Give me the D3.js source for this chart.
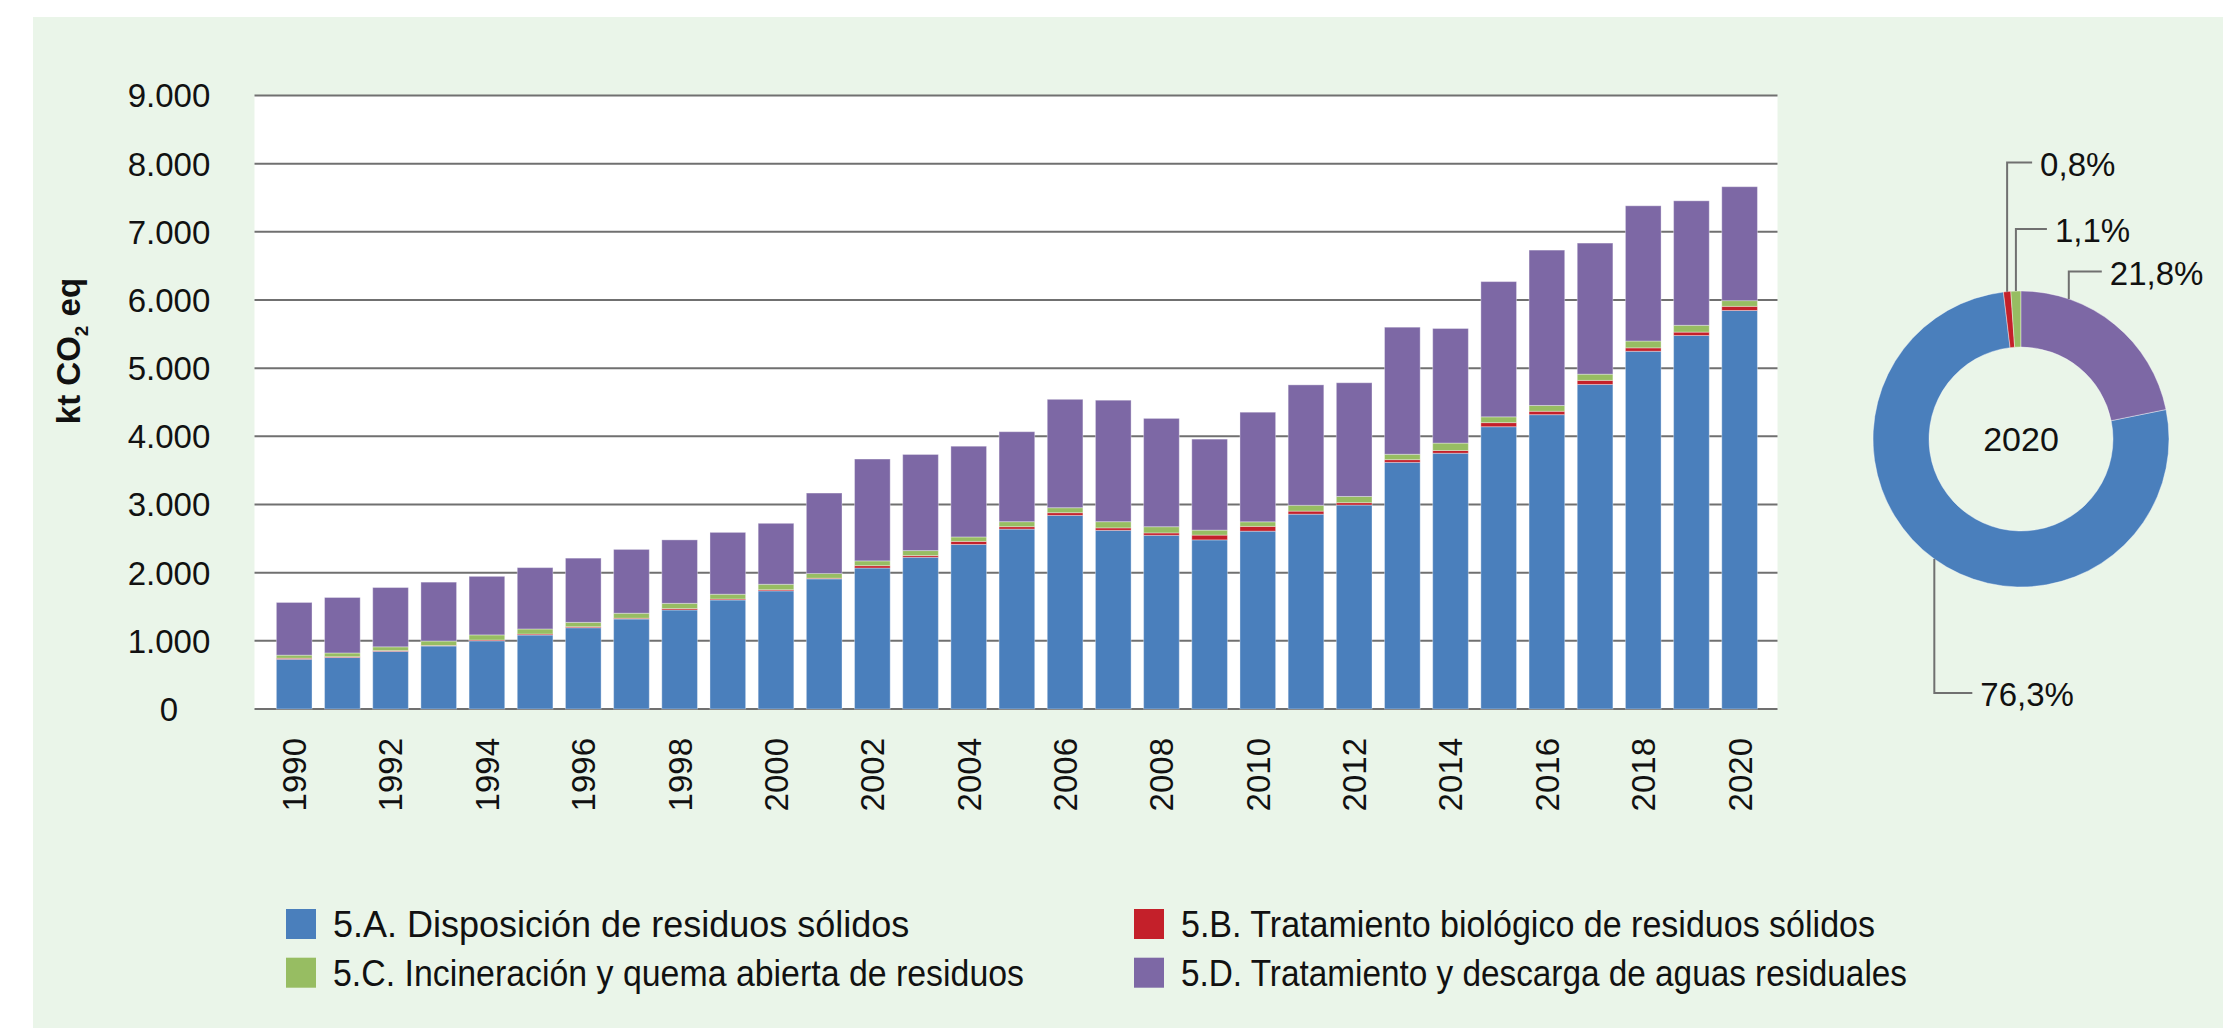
<!DOCTYPE html>
<html lang="es">
<head>
<meta charset="utf-8">
<title>Emisiones del sector Residuos (kt CO2 eq), 1990-2020</title>
<script src="https://cdn.jsdelivr.net/npm/d3@7/dist/d3.min.js"></script>
<style>
  html, body { margin: 0; padding: 0; background: #ffffff; }
  svg { display: block; }
  text { font-family: "Liberation Sans", Arial, sans-serif; fill: #111111; }
  .legend-label { font-family: "Liberation Sans Narrow", "Liberation Sans", Arial, sans-serif; }
</style>
</head>
<body>
<svg id="chart" width="2223" height="1028"></svg>
<script>
// ---- Data (kt CO2 eq) ----
const years = d3.range(1990, 2021);
const yearTickLabels = years.filter(y => y % 2 === 0);

// 5.A. Disposición de residuos sólidos
const disposicionSolidos = [730, 755, 845, 924, 1000, 1085, 1192, 1320, 1453, 1599, 1733, 1909, 2068, 2226, 2414, 2639,
  2840, 2621, 2548, 2481, 2609, 2858, 2992, 3618, 3752, 4141, 4318, 4761, 5248, 5479, 5846];
// 5.B. Tratamiento biológico de residuos sólidos
const tratamientoBiologico = [15, 12, 12, 8, 12, 15, 15, 12, 20, 15, 17, 10, 35, 25, 45, 36,
  40, 36, 35, 70, 70, 45, 35, 40, 40, 60, 50, 60, 50, 50, 61];
// 5.C. Incineración y quema abierta de residuos
const incineracion = [45, 55, 55, 65, 75, 74, 64, 73, 77, 70, 80, 69, 70, 73, 65, 73,
  73, 91, 91, 73, 67, 85, 91, 79, 109, 85, 85, 91, 100, 100, 84];
// 5.D. Tratamiento y descarga de aguas residuales
const aguasResiduales = [773, 814, 870, 864, 859, 900, 942, 936, 931, 907, 894, 1180, 1494, 1410, 1331, 1320,
  1590, 1782, 1589, 1335, 1608, 1767, 1668, 1864, 1681, 1984, 2279, 1923, 1984, 1826, 1671];

const yTicks = d3.range(0, 9001, 1000);

const seriesKeys = ["A", "B", "C", "D"];
const seriesNames = [
  "5.A. Disposición de residuos sólidos",
  "5.B. Tratamiento biológico de residuos sólidos",
  "5.C. Incineración y quema abierta de residuos",
  "5.D. Tratamiento y descarga de aguas residuales"
];
const seriesColors = ["#4A7FBC", "#C4202A", "#97BD62", "#7D68A5"];
const donutYear = 2020;

// ---- Table for the stack layout ----
const rows = years.map((yr, i) => ({
  year: yr,
  A: disposicionSolidos[i],
  B: tratamientoBiologico[i],
  C: incineracion[i],
  D: aguasResiduales[i]
}));

const svg = d3.select("#chart");
const W = 2223, H = 1028;

// Light green panel
svg.append("rect").attr("x", 33).attr("y", 17).attr("width", W - 33).attr("height", H - 17)
  .attr("fill", "#EAF5E9");

// ---- Bar chart ----
const plot = { left: 254.5, right: 1777.5, top: 95.5, bottom: 709 };

const y = d3.scaleLinear().domain([0, 9000]).range([plot.bottom, plot.top]);
const x = d3.scaleBand().domain(years).range([270.1, 1763.7]).paddingInner(0.26).paddingOuter(0.13);

const locale = d3.formatLocale({ decimal: ",", thousands: ".", grouping: [3], currency: ["", ""] });
const fmtThousands = locale.format(",d");
const fmtPct = locale.format(",.1f");

svg.append("rect")
  .attr("x", plot.left).attr("y", plot.top)
  .attr("width", plot.right - plot.left).attr("height", plot.bottom - plot.top)
  .attr("fill", "#ffffff");

const grid = svg.append("g");
grid.selectAll("line").data(yTicks).join("line")
  .attr("x1", plot.left).attr("x2", plot.right)
  .attr("y1", d => y(d)).attr("y2", d => y(d))
  .attr("stroke", "#707070").attr("stroke-width", 2);

svg.append("g").selectAll("text").data(yTicks).join("text")
  .attr("x", 169).attr("y", d => y(d)).attr("dy", "0.36em")
  .attr("text-anchor", "middle").attr("font-size", 33)
  .text(d => fmtThousands(d));

// Axis title
const yTitle = svg.append("text")
  .attr("transform", "translate(80,351) rotate(-90)")
  .attr("text-anchor", "middle").attr("font-size", 33).attr("font-weight", "bold");
yTitle.append("tspan").text("kt CO");
yTitle.append("tspan").attr("font-size", 19).attr("dy", 8).text("2");
yTitle.append("tspan").attr("dy", -8).text(" eq");

// Stacked bars
const stacked = d3.stack().keys(seriesKeys)(rows);
const layers = svg.append("g").selectAll("g").data(stacked).join("g")
  .attr("fill", (d, i) => seriesColors[i]);
layers.selectAll("rect").data(d => d).join("rect")
  .attr("x", d => x(d.data.year))
  .attr("width", x.bandwidth())
  .attr("y", d => y(d[1]))
  .attr("height", d => y(d[0]) - y(d[1]))
  .attr("stroke", "#ffffff").attr("stroke-opacity", 0.35).attr("stroke-width", 1);

// Year labels
svg.append("g").selectAll("text").data(yearTickLabels).join("text")
  .attr("transform", d => `translate(${x(d) + x.bandwidth() / 2},738) rotate(-90)`)
  .attr("dy", "0.36em").attr("text-anchor", "end").attr("font-size", 33)
  .text(d => d);

// ---- Doughnut for the last year ----
const di = years.indexOf(donutYear);
const donutValues = [disposicionSolidos[di], tratamientoBiologico[di], incineracion[di], aguasResiduales[di]];
const donutTotal = d3.sum(donutValues);
const cx = 2021, cy = 439, rOuter = 148, rInner = 92;
const startA = (donutValues[3] / donutTotal) * 2 * Math.PI;

const pie = d3.pie().sort(null).value(d => d).startAngle(startA).endAngle(startA + 2 * Math.PI);
const arcs = pie(donutValues);
const arc = d3.arc().innerRadius(rInner).outerRadius(rOuter);

const donut = svg.append("g").attr("transform", `translate(${cx},${cy})`);
donut.selectAll("path").data(arcs).join("path")
  .attr("d", arc)
  .attr("fill", (d, i) => seriesColors[i])
  .attr("stroke", "#ffffff").attr("stroke-opacity", 0.5).attr("stroke-width", 0.8);

donut.append("text").attr("text-anchor", "middle").attr("dy", "0.36em")
  .attr("font-size", 34).text(donutYear);

// Leader-line layout per slice: where along the slice the line leaves,
// the label row (relative to the centre) and the length of the elbow.
const labelLayout = [
  { along: 0.5, rowY: 254, elbow: 38 },
  { along: 0.5, rowY: -276.5, elbow: 25 },
  { along: 0.5, rowY: -210, elbow: 31 },
  { along: 0.24, rowY: -167.5, elbow: 33 }
];

arcs.forEach((a, i) => {
  const L = labelLayout[i];
  const ang = a.startAngle + (a.endAngle - a.startAngle) * L.along;
  const px = rOuter * Math.sin(ang);
  const py = -rOuter * Math.cos(ang);
  const ex = px + L.elbow;
  donut.append("polyline")
    .attr("points", `${px},${py} ${px},${L.rowY} ${ex},${L.rowY}`)
    .attr("fill", "none").attr("stroke", "#707070").attr("stroke-width", 2);
  donut.append("text")
    .attr("x", ex + 8).attr("y", L.rowY).attr("dy", "0.4em")
    .attr("font-size", 33)
    .text(fmtPct(a.data / donutTotal * 100) + "%");
});

// ---- Legend ----
const legendPos = [
  { sx: 286, sy: 909, textWidth: 574 },
  { sx: 1134, sy: 909, textWidth: 694 },
  { sx: 286, sy: 957.7, textWidth: 691 },
  { sx: 1134, sy: 957.7, textWidth: 726 }
];
const legend = svg.append("g");
const items = legend.selectAll("g").data(seriesNames).join("g")
  .attr("transform", (d, i) => `translate(${legendPos[i].sx},${legendPos[i].sy})`);
items.append("rect").attr("width", 30).attr("height", 30)
  .attr("fill", (d, i) => seriesColors[i]);
const legendTexts = items.append("text").attr("class", "legend-label")
  .attr("x", 47).attr("y", 28).attr("font-size", 36)
  .text(d => d);

// Fit each legend entry to its column width
legendTexts.each(function (d, i) {
  const w = this.getComputedTextLength();
  const target = legendPos[i].textWidth;
  if (Math.abs(w - target) / target > 0.01) {
    d3.select(this).attr("textLength", target).attr("lengthAdjust", "spacingAndGlyphs");
  }
});
</script>
</body>
</html>
